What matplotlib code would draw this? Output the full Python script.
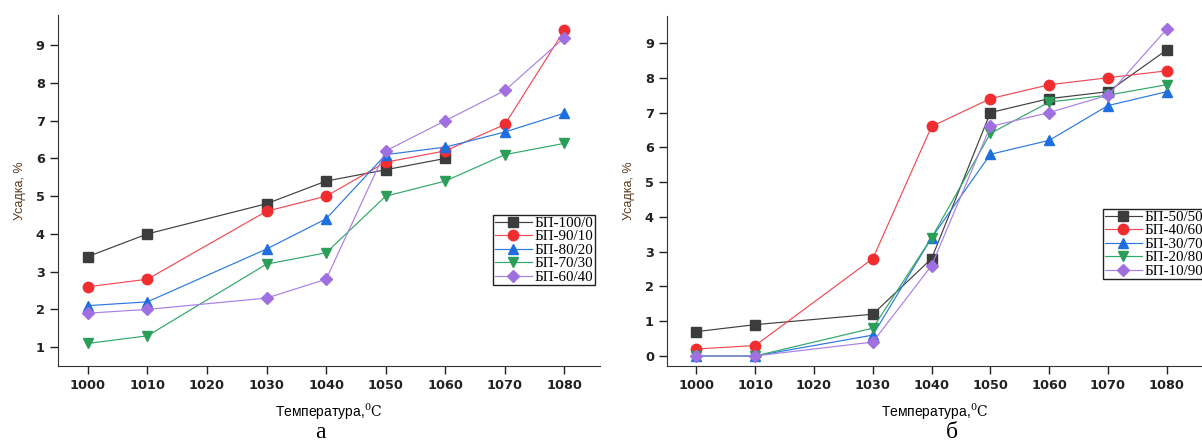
import matplotlib.pyplot as plt

plt.rcParams['mathtext.fontset'] = 'dejavuserif'

temps = [1000, 1010, 1030, 1040, 1050, 1060, 1070, 1080]

# panel a
labels_a = ['БП-100/0', 'БП-90/10', 'БП-80/20', 'БП-70/30', 'БП-60/40']
bp_100_0 = [3.4, 4.0, 4.8, 5.4, 5.7, 6.0]
bp_90_10 = [2.6, 2.8, 4.6, 5.0, 5.9, 6.2, 6.9, 9.4]
bp_80_20 = [2.1, 2.2, 3.6, 4.4, 6.1, 6.3, 6.7, 7.2]
bp_70_30 = [1.1, 1.3, 3.2, 3.5, 5.0, 5.4, 6.1, 6.4]
bp_60_40 = [1.9, 2.0, 2.3, 2.8, 6.2, 7.0, 7.8, 9.2]

# panel b
labels_b = ['БП-50/50', 'БП-40/60', 'БП-30/70', 'БП-20/80', 'БП-10/90']
bp_50_50 = [0.7, 0.9, 1.2, 2.8, 7.0, 7.4, 7.6, 8.8]
bp_40_60 = [0.2, 0.3, 2.8, 6.6, 7.4, 7.8, 8.0, 8.2]
bp_30_70 = [0.0, 0.0, 0.6, 3.4, 5.8, 6.2, 7.2, 7.6]
bp_20_80 = [0.0, 0.0, 0.8, 3.4, 6.4, 7.3, 7.5, 7.8]
bp_10_90 = [0.0, 0.0, 0.4, 2.6, 6.6, 7.0, 7.5, 9.4]

line_cols = ['#404040', '#f04a55', '#2a78e0', '#2fa868', '#a880e6']
mark_cols = ['#3c3c3c', '#f02e30', '#1f6ee0', '#2b9e58', '#a070e0']
markers = ['s', 'o', '^', 'v', 'D']
msizes = [6.5, 7.5, 7.5, 7.5, 6.5]

fig = plt.figure(figsize=(12.02, 4.41), dpi=100)
ax1 = fig.add_axes([0.0483, 0.170, 0.451, 0.796])
ax2 = fig.add_axes([0.555, 0.170, 0.445, 0.794])


def draw(ax, series, labels, yticks, ylim, leg_anchor):
    for i, ys in enumerate(series):
        ax.plot(temps[:len(ys)], ys, color=line_cols[i], lw=0.85,
                marker=markers[i], ms=msizes[i], mfc=mark_cols[i],
                mec=mark_cols[i], label=labels[i])
    ax.set_xlim(995, 1086)
    ax.set_ylim(*ylim)
    ax.set_xticks([1000, 1010, 1020, 1030, 1040, 1050, 1060, 1070, 1080])
    ax.set_yticks(yticks)
    for s in ['top', 'right']:
        ax.spines[s].set_visible(False)
    ax.spines['left'].set_color('#333333')
    ax.spines['bottom'].set_color('#333333')
    ax.tick_params(direction='out', length=6, width=1, colors='#222222',
                   labelsize=9.3)
    for t in ax.get_xticklabels() + ax.get_yticklabels():
        t.set_fontweight('bold')
    ax.set_ylabel('Усадка, %', fontsize=9, color='#5a3a1a',
                  family='Liberation Sans', labelpad=7)
    ax.set_xlabel('Температура,$^{0}\\mathrm{C}$', fontsize=10,
                  family='Liberation Sans', labelpad=7)
    leg = ax.legend(loc='upper left', bbox_to_anchor=leg_anchor,
                    bbox_transform=fig.transFigure,
                    prop={'family': 'Liberation Serif', 'size': 10.8},
                    fancybox=False, edgecolor='#222222', framealpha=1,
                    borderpad=0.1, labelspacing=0.0, handlelength=2.5,
                    handletextpad=0.2, borderaxespad=0)
    leg.get_frame().set_linewidth(1)


draw(ax1, [bp_100_0, bp_90_10, bp_80_20, bp_70_30, bp_60_40], labels_a,
     range(1, 10), (0.5, 9.8), (493 / 1202, 1 - 215 / 441))
draw(ax2, [bp_50_50, bp_40_60, bp_30_70, bp_20_80, bp_10_90], labels_b,
     range(0, 10), (-0.29, 9.78), (1103 / 1202, 1 - 209 / 441))

fig.text(320 / 1202, 1 - 432 / 441, 'а', family='Liberation Serif',
         fontsize=17, ha='center', va='center')
fig.text(952 / 1202, 1 - 432 / 441, 'б', family='Liberation Serif',
         fontsize=17, ha='center', va='center')

fig.savefig('out.png', dpi=100)
